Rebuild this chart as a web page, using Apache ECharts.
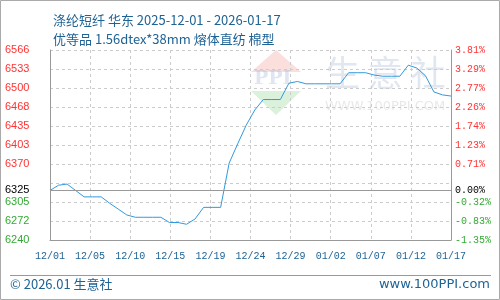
<!DOCTYPE html>
<html><head><meta charset="utf-8">
<script src="https://cdn.jsdelivr.net/npm/echarts@6/dist/echarts.min.js"></script>
<style>html,body{margin:0;padding:0;background:#fff}#c{width:500px;height:300px}</style>
</head><body><div id="c"></div>
<script>
const dates = ['12/01','12/02','12/03','12/04','12/05','12/06','12/07','12/08','12/09','12/10',
  '12/11','12/12','12/13','12/14','12/15','12/16','12/17','12/18','12/19','12/20',
  '12/21','12/22','12/23','12/24','12/25','12/26','12/27','12/28','12/29','12/30',
  '12/31','01/01','01/02','01/03','01/04','01/05','01/06','01/07','01/08','01/09',
  '01/10','01/11','01/12','01/13','01/14','01/15','01/16','01/17'];
const prices = [6325,6334,6336,6325,6314,6314,6314,6303,6293,6283,
  6279,6279,6279,6279,6270,6270,6267,6276,6296,6296,
  6296,6372,6405,6437,6463,6481,6481,6481,6509,6512,
  6508,6508,6508,6508,6508,6527,6527,6527,6523,6521,
  6521,6521,6540,6535,6522,6494,6489,6487];
const xTickLabels = ['12/01','12/05','12/10','12/15','12/19','12/24','12/29','01/02','01/07','01/12','01/17'];
const leftTickLabels = ['6240','6272','6305','','6370','6403','6435','6468','6500','6533','6566'];
const rightTickLabels = ['-1.35%','-0.83%','-0.32%','','0.71%','1.23%','1.74%','2.26%','2.77%','3.29%','3.81%'];
const baseValue = 6325;
const baseLeftLabel = '6325';
const baseRightLabel = '0.00%';
const yMin = 6240, yMax = 6566, yStep = 32.6;
const xStep = 4.7;

const RED = '#ff3333', GREEN = '#33aa33', BLUE = '#1f6395';
const tickIdx = v => Math.round((v - yMin) / yStep);
const colorFor = v => v > baseValue ? RED : (v < baseValue ? GREEN : '#000');

const chart = echarts.init(document.getElementById('c'), null, {renderer:'canvas'});
chart.setOption({
  backgroundColor: '#fff',
  animation: false,
  title: {
    text: '涤纶短纤 华东 2025-12-01 - 2026-01-17\n优等品 1.56dtex*38mm 熔体直纺 棉型',
    left: 48, top: 6,
    textStyle: {fontSize: 13, fontWeight: 'normal', color: BLUE, lineHeight: 19,
      fontFamily: '"Noto Sans CJK SC", sans-serif'}
  },
  grid: {left: 50, right: 49, top: 50, bottom: 60},
  xAxis: {
    type: 'value', min: 0, max: dates.length - 1, interval: xStep,
    axisLine: {show: true, lineStyle: {color: '#999'}},
    axisTick: {show: false},
    splitLine: {show: true, lineStyle: {type: [3, 3], color: '#ccc'}},
    axisLabel: {
      margin: 11, color: BLUE, fontSize: 10, fontFamily: '"Liberation Mono", monospace',
      showMinLabel: true, showMaxLabel: true, hideOverlap: false,
      formatter: v => xTickLabels[Math.round(v / xStep)] || ''
    }
  },
  yAxis: [
    {
      type: 'value', position: 'left', min: yMin, max: yMax, interval: yStep,
      axisLine: {show: true, lineStyle: {color: '#999'}},
      axisTick: {show: false},
      splitLine: {show: true, lineStyle: {type: [3, 3], color: '#ccc'}},
      axisLabel: {
        align: 'left', margin: 45, fontSize: 11, fontFamily: '"Liberation Sans", Arial, sans-serif',
        showMinLabel: true, showMaxLabel: true, hideOverlap: false,
        formatter: v => leftTickLabels[tickIdx(v)] || '',
        color: v => colorFor(v)
      }
    },
    {
      type: 'value', position: 'right', min: yMin, max: yMax, interval: yStep,
      axisLine: {show: true, lineStyle: {color: '#999'}},
      axisTick: {show: false},
      splitLine: {show: false},
      axisLabel: {
        margin: 4, fontSize: 10, fontFamily: '"Liberation Mono", monospace',
        showMinLabel: true, showMaxLabel: true, hideOverlap: false,
        formatter: v => rightTickLabels[tickIdx(v)] || '',
        color: v => colorFor(v)
      }
    },
    {
      type: 'value', position: 'left', min: yMin, max: yMax,
      axisLine: {show: false}, axisTick: {show: false}, splitLine: {show: false},
      axisLabel: {
        customValues: [baseValue], align: 'left', margin: 45, fontSize: 11,
        fontFamily: '"Liberation Sans", Arial, sans-serif', color: '#000',
        formatter: () => baseLeftLabel
      }
    },
    {
      type: 'value', position: 'right', min: yMin, max: yMax,
      axisLine: {show: false}, axisTick: {show: false}, splitLine: {show: false},
      axisLabel: {
        customValues: [baseValue], margin: 4, fontSize: 10,
        fontFamily: '"Liberation Mono", monospace', color: '#000',
        formatter: () => baseRightLabel
      }
    }
  ],
  graphic: [
    {type: 'polygon', z: -10, silent: true, shape: {points: [[276,50],[251,72],[301,72]]}, style: {fill: 'rgba(240,150,140,0.3)'}},
    {type: 'text', z: -10, silent: true, left: 254, top: 70, style: {text: 'PPI', fontSize: 19, fontWeight: 'bold', fontFamily: '"DejaVu Serif", serif', fill: 'rgba(150,170,210,0.3)'}},
    {type: 'polygon', z: -10, silent: true, shape: {points: [[251,91],[301,91],[276,115]]}, style: {fill: 'rgba(140,210,140,0.3)'}},
    {type: 'text', z: -10, silent: true, left: 325, top: 55, style: {text: '生 意 社', fontSize: 35, fontFamily: '"Noto Sans CJK SC", sans-serif', fill: 'rgba(170,185,215,0.35)'}},
    {type: 'text', z: -10, silent: true, left: 325, top: 100, style: {text: 'WWW.100PPI.COM', fontSize: 13, fontFamily: '"DejaVu Sans", sans-serif', fill: 'rgba(190,190,190,0.35)'}},
    {type: 'line', silent: true, shape: {x1: 10, y1: 275.5, x2: 491, y2: 275.5}, style: {stroke: '#999', lineWidth: 1}},
    {type: 'text', silent: true, left: 10, top: 278, style: {text: '© 2026.01 生意社', fontSize: 13, fontFamily: '"Noto Sans CJK SC", sans-serif', fill: BLUE}},
    {type: 'text', silent: true, right: 10, top: 278, style: {text: 'www.100PPI.com', fontSize: 13, fontFamily: '"DejaVu Sans", sans-serif', fill: BLUE}},
    {type: 'rect', silent: true, shape: {x: 0.5, y: 0.5, width: 499, height: 299}, style: {fill: 'none', stroke: '#aaa', lineWidth: 1}}
  ],
  series: [{
    type: 'line', xAxisIndex: 0, yAxisIndex: 0,
    data: prices.map((p, i) => [i, p]),
    symbol: 'none', lineStyle: {color: '#3399dd', width: 1},
    markLine: {
      silent: true, symbol: 'none', label: {show: false},
      lineStyle: {type: 'solid', color: '#999', width: 1},
      data: [{yAxis: baseValue}]
    }
  }]
});
</script></body></html>
